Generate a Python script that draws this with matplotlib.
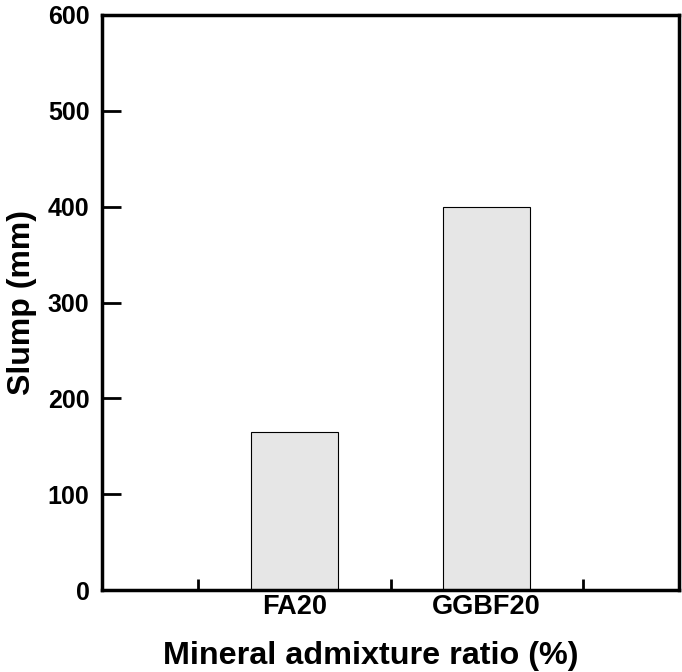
import matplotlib
matplotlib.use('Agg')
import matplotlib.pyplot as plt
import numpy as np

categories = ['FA20', 'GGBF20']
slump = [165, 400]
y_ticks = [0, 100, 200, 300, 400, 500, 600]

plt.rcParams['font.family'] = ['Liberation Sans', 'DejaVu Sans']
plt.rcParams['font.weight'] = 'bold'

fig = plt.figure(figsize=(6.82, 6.72), dpi=100)
ax = fig.add_axes([102/682, 82/672, 577/682, 575/672])

pos = np.arange(1, len(categories) + 1)
ax.bar(pos, slump, width=0.45, color='#e6e6e6', edgecolor='black', linewidth=0.8)

ax.set_xlim(0, 3)
ax.set_ylim(0, 600)
ax.set_yticks(y_ticks)
ax.set_yticklabels([str(v) for v in y_ticks], fontsize=18, fontweight='bold')
ax.set_xticks(pos)
ax.set_xticklabels(categories, fontsize=19.5, fontweight='bold')
ax.tick_params(axis='x', which='major', length=0, pad=3)
ax.set_xticks(np.arange(0.5, 3, 1), minor=True)
ax.tick_params(axis='x', which='minor', direction='in', length=8, width=2)
ax.tick_params(axis='y', which='major', direction='in', length=14, width=2, pad=9)

for s in ax.spines.values():
    s.set_linewidth(2.5)

ax.set_xlabel('Mineral admixture ratio (%)', fontsize=23.3, fontweight='bold')
ax.xaxis.set_label_coords(0.465, -0.088)
ax.set_ylabel('Slump (mm)', fontsize=23, fontweight='bold', labelpad=8)

plt.savefig('out.png', dpi=100)
